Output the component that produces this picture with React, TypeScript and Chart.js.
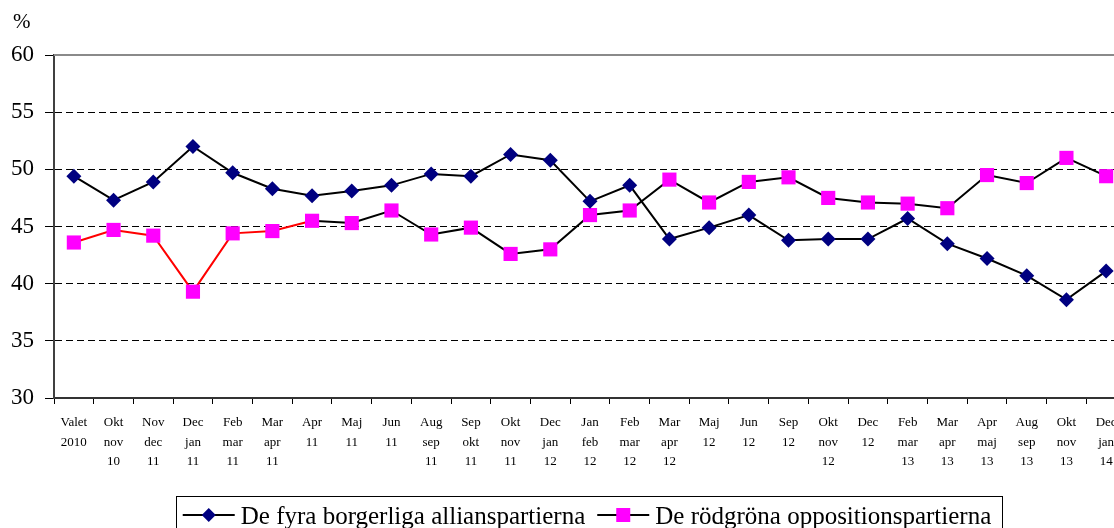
import React, { useEffect, useRef } from "react";
import { Chart, registerables } from "chart.js";

Chart.register(...registerables);

const categories: string[][] = [
  ["Valet", "2010"], ["Okt", "nov", "10"], ["Nov", "dec", "11"], ["Dec", "jan", "11"],
  ["Feb", "mar", "11"], ["Mar", "apr", "11"], ["Apr", "11"], ["Maj", "11"], ["Jun", "11"],
  ["Aug", "sep", "11"], ["Sep", "okt", "11"], ["Okt", "nov", "11"], ["Dec", "jan", "12"],
  ["Jan", "feb", "12"], ["Feb", "mar", "12"], ["Mar", "apr", "12"], ["Maj", "12"], ["Jun", "12"],
  ["Sep", "12"], ["Okt", "nov", "12"], ["Dec", "12"], ["Feb", "mar", "13"], ["Mar", "apr", "13"],
  ["Apr", "maj", "13"], ["Aug", "sep", "13"], ["Okt", "nov", "13"], ["Dec", "jan", "14"],
];

const seriesNames = ["De fyra borgerliga allianspartierna", "De rödgröna oppositionspartierna"];

const borgerliga = [
  49.4, 47.3, 48.9, 52.0, 49.7, 48.3, 47.7, 48.1, 48.6, 49.6, 49.4, 51.3, 50.8,
  47.2, 48.6, 43.9, 44.9, 46.0, 43.8, 43.9, 43.9, 45.7, 43.5, 42.2, 40.7, 38.6, 41.1,
];

const rodgrona = [
  43.6, 44.7, 44.2, 39.3, 44.4, 44.6, 45.5, 45.3, 46.4, 44.3, 44.9, 42.6, 43.0,
  46.0, 46.4, 49.1, 47.1, 48.9, 49.3, 47.5, 47.1, 47.0, 46.6, 49.5, 48.8, 51.0, 49.4,
];

const yTicks = [30, 35, 40, 45, 50, 55, 60];
const unitLabel = "%";

const SERIF = '"Liberation Serif", "Times New Roman", Times, serif';
const NAVY = "#000080";
const MAGENTA = "#FF00FF";
const RED_SEGMENTS = 6;

const decorPlugin = {
  id: "decor",
  afterDraw(chart: any) {
    const { ctx, chartArea } = chart;
    ctx.save();
    // plot area top border
    ctx.strokeStyle = "#8a8a8a";
    ctx.lineWidth = 2;
    ctx.beginPath();
    ctx.moveTo(chartArea.left, chartArea.top);
    ctx.lineTo(chartArea.right + 2, chartArea.top);
    ctx.stroke();

    // unit label
    ctx.fillStyle = "#000";
    ctx.font = `21px ${SERIF}`;
    ctx.textAlign = "left";
    ctx.textBaseline = "alphabetic";
    ctx.fillText(unitLabel, 13, 28);

    // legend
    ctx.font = `25px ${SERIF}`;
    const w1 = ctx.measureText(seriesNames[0]).width;
    const w2 = ctx.measureText(seriesNames[1]).width;
    const lineLen = 52;
    const gapText = 6;
    const gapItem = 12;
    const padL = 7;
    const padR = 10;
    const total = padL + lineLen + gapText + w1 + gapItem + lineLen + gapText + w2 + padR;
    const cx = (chartArea.left + chartArea.right) / 2 - 1.5;
    const left = cx - total / 2;
    const top = 496;
    const lineY = 515;
    const baseY = 524;

    ctx.strokeStyle = "#000";
    ctx.lineWidth = 1;
    ctx.strokeRect(Math.round(left) + 0.5, top + 0.5, Math.round(total), 40);

    let x = left + padL;
    // item 1
    ctx.strokeStyle = "#000";
    ctx.lineWidth = 2;
    ctx.beginPath();
    ctx.moveTo(x, lineY);
    ctx.lineTo(x + lineLen, lineY);
    ctx.stroke();
    const m1 = x + lineLen / 2;
    ctx.fillStyle = NAVY;
    ctx.beginPath();
    ctx.moveTo(m1 - 7, lineY);
    ctx.lineTo(m1, lineY - 7);
    ctx.lineTo(m1 + 7, lineY);
    ctx.lineTo(m1, lineY + 7);
    ctx.closePath();
    ctx.fill();
    x += lineLen + gapText;
    ctx.fillStyle = "#000";
    ctx.fillText(seriesNames[0], x, baseY);
    x += w1 + gapItem;
    // item 2
    ctx.strokeStyle = "#000";
    ctx.beginPath();
    ctx.moveTo(x, lineY);
    ctx.lineTo(x + lineLen, lineY);
    ctx.stroke();
    const m2 = x + lineLen / 2;
    ctx.fillStyle = MAGENTA;
    ctx.fillRect(m2 - 7, lineY - 7, 14, 14);
    x += lineLen + gapText;
    ctx.fillStyle = "#000";
    ctx.fillText(seriesNames[1], x, baseY);
    ctx.restore();
  },
};

export default function App() {
  const canvasRef = useRef<HTMLCanvasElement | null>(null);

  useEffect(() => {
    if (!canvasRef.current) return;
    const chart = new Chart(canvasRef.current, {
      type: "line",
      data: {
        labels: categories,
        datasets: [
          {
            label: seriesNames[0],
            data: borgerliga,
            borderColor: "#000",
            borderWidth: 2,
            pointStyle: "rectRot",
            pointRadius: 7.5,
            pointBackgroundColor: NAVY,
            pointBorderColor: NAVY,
            pointBorderWidth: 0,
            tension: 0,
          },
          {
            label: seriesNames[1],
            data: rodgrona,
            borderColor: "#000",
            borderWidth: 2,
            segment: {
              borderColor: (c: any) => (c.p0DataIndex < RED_SEGMENTS ? "#FF0000" : "#000"),
            },
            pointStyle: "rect",
            pointRadius: 10,
            pointBackgroundColor: MAGENTA,
            pointBorderColor: MAGENTA,
            pointBorderWidth: 0,
            tension: 0,
          },
        ],
      },
      options: {
        animation: false,
        responsive: true,
        maintainAspectRatio: false,
        layout: { padding: { left: 0, top: 55, right: 4, bottom: 50 } },
        plugins: {
          legend: { display: false },
          tooltip: { enabled: false },
          title: { display: false },
        },
        scales: {
          x: {
            type: "category",
            offset: true,
            grid: {
              offset: true,
              drawOnChartArea: false,
              drawTicks: true,
              tickLength: 6,
              color: "#000",
              tickColor: "#000",
              tickWidth: 1,
            },
            border: { display: true, color: "#333", width: 2 },
            ticks: {
              color: "#000",
              font: { family: SERIF, size: 13, lineHeight: 1.5 },
              padding: 9,
              maxRotation: 0,
              minRotation: 0,
              autoSkip: false,
            },
            afterFit: (scale: any) => {
              scale.height = 80;
            },
          },
          y: {
            min: 30,
            max: 60,
            afterBuildTicks: (scale: any) => {
              scale.ticks = yTicks.map((v) => ({ value: v }));
            },
            grid: {
              color: (c: any) =>
                c.tick && (c.tick.value === 60 || c.tick.value === 30) ? "rgba(0,0,0,0)" : "#000",
              lineWidth: 1,
              tickColor: "#000",
              tickLength: 9,
              tickWidth: 1,
              tickBorderDash: [],
            },
            border: { display: true, color: "#404040", width: 2, dash: [7, 4] },
            ticks: {
              color: "#000",
              font: { family: SERIF, size: 23 },
              padding: 11,
            },
            afterFit: (scale: any) => {
              scale.width = 54;
            },
          },
        },
      },
      plugins: [decorPlugin],
    });
    return () => chart.destroy();
  }, []);

  return (
    <div style={{ position: "fixed", left: 0, top: 0, width: 1136, height: 528, background: "#fff" }}>
      <canvas ref={canvasRef} />
    </div>
  );
}
